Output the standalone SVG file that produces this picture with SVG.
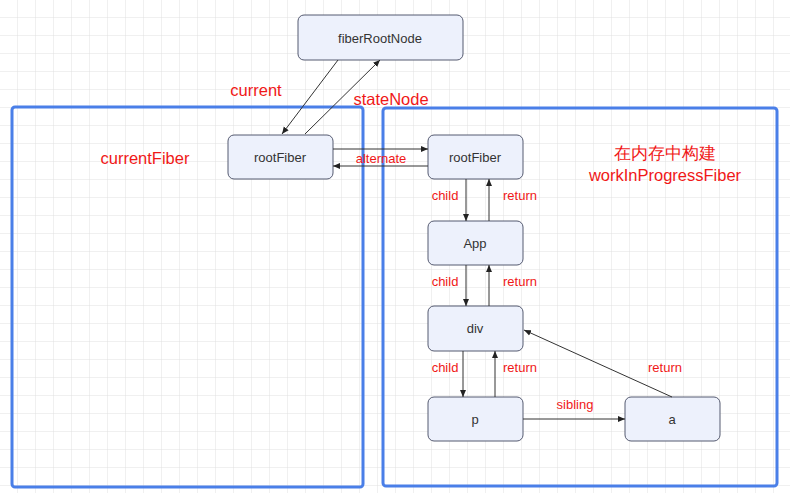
<svg xmlns="http://www.w3.org/2000/svg" width="790" height="493" viewBox="0 0 790 493">
<defs>
<pattern id="grid" width="18" height="18" patternUnits="userSpaceOnUse"><path d="M18 0V18H0" fill="none" stroke="#e0e0e0" stroke-width="1"/></pattern>
<marker id="ar" markerWidth="8" markerHeight="8" refX="7" refY="4" orient="auto" markerUnits="userSpaceOnUse"><path d="M0,1 L7,4 L0,7z" fill="#222"/></marker>
</defs>
<style>
.n rect{fill:#edf1fc;stroke:#555a70;stroke-width:1}
.n text{font-family:"Liberation Sans",Arial,sans-serif;font-size:13px;fill:#333;text-anchor:middle;dominant-baseline:central}
.c line{stroke:#333;stroke-width:1;marker-end:url(#ar)}
.l{font-family:"Liberation Sans",Arial,sans-serif;font-size:13px;fill:#f01818;text-anchor:middle;dominant-baseline:central}
.b{font-size:16.5px}
.box{fill:none;stroke:#4a7fe8;stroke-width:3}
</style>
<rect width="790" height="493" fill="#fff"/>
<rect width="790" height="493" fill="url(#grid)"/>
<rect class="box" x="12" y="107" width="351" height="380" rx="3"/>
<rect class="box" x="383" y="108" width="394" height="378" rx="3"/>
<g id="fiberRootNode" class="n"><rect x="298" y="15" width="165" height="45" rx="6"/><text x="380" y="38">fiberRootNode</text></g>
<g id="rootFiberL" class="n"><rect x="228" y="135" width="105" height="44" rx="6"/><text x="280" y="157">rootFiber</text></g>
<g id="rootFiberR" class="n"><rect x="428" y="135" width="95" height="44" rx="6"/><text x="475" y="157">rootFiber</text></g>
<g id="App" class="n"><rect x="428" y="221" width="95" height="44" rx="6"/><text x="475" y="243">App</text></g>
<g id="div" class="n"><rect x="428" y="306" width="95" height="45" rx="6"/><text x="475" y="328">div</text></g>
<g id="p" class="n"><rect x="428" y="397" width="95" height="44" rx="6"/><text x="475" y="419">p</text></g>
<g id="a" class="n"><rect x="625" y="397" width="95" height="44" rx="6"/><text x="672" y="419">a</text></g>
<g id="connectors" class="c">
<line x1="338" y1="60" x2="282" y2="134"/>
<line x1="305" y1="134" x2="380" y2="60"/>
<line x1="333" y1="149" x2="428" y2="149"/>
<line x1="428" y1="166" x2="333" y2="166"/>
<line x1="466" y1="179" x2="466" y2="221"/>
<line x1="489" y1="221" x2="489" y2="179"/>
<line x1="466" y1="265" x2="466" y2="306"/>
<line x1="489" y1="306" x2="489" y2="265"/>
<line x1="463" y1="351" x2="463" y2="397"/>
<line x1="495" y1="397" x2="495" y2="351"/>
<line x1="523" y1="419" x2="625" y2="419"/>
<line x1="672" y1="397" x2="524" y2="330"/>
</g>
<text class="l b" x="256" y="90">current</text>
<text class="l b" x="391" y="99">stateNode</text>
<text class="l b" x="145" y="158">currentFiber</text>
<text class="l b" x="665" y="153">在内存中构建</text>
<text class="l b" x="665" y="175">workInProgressFiber</text>
<text class="l" x="381" y="158">alternate</text>
<text class="l" x="445" y="195">child</text>
<text class="l" x="520" y="195">return</text>
<text class="l" x="445" y="281">child</text>
<text class="l" x="520" y="281">return</text>
<text class="l" x="445" y="367">child</text>
<text class="l" x="520" y="367">return</text>
<text class="l" x="665" y="367">return</text>
<text class="l" x="575" y="404">sibling</text>
</svg>
